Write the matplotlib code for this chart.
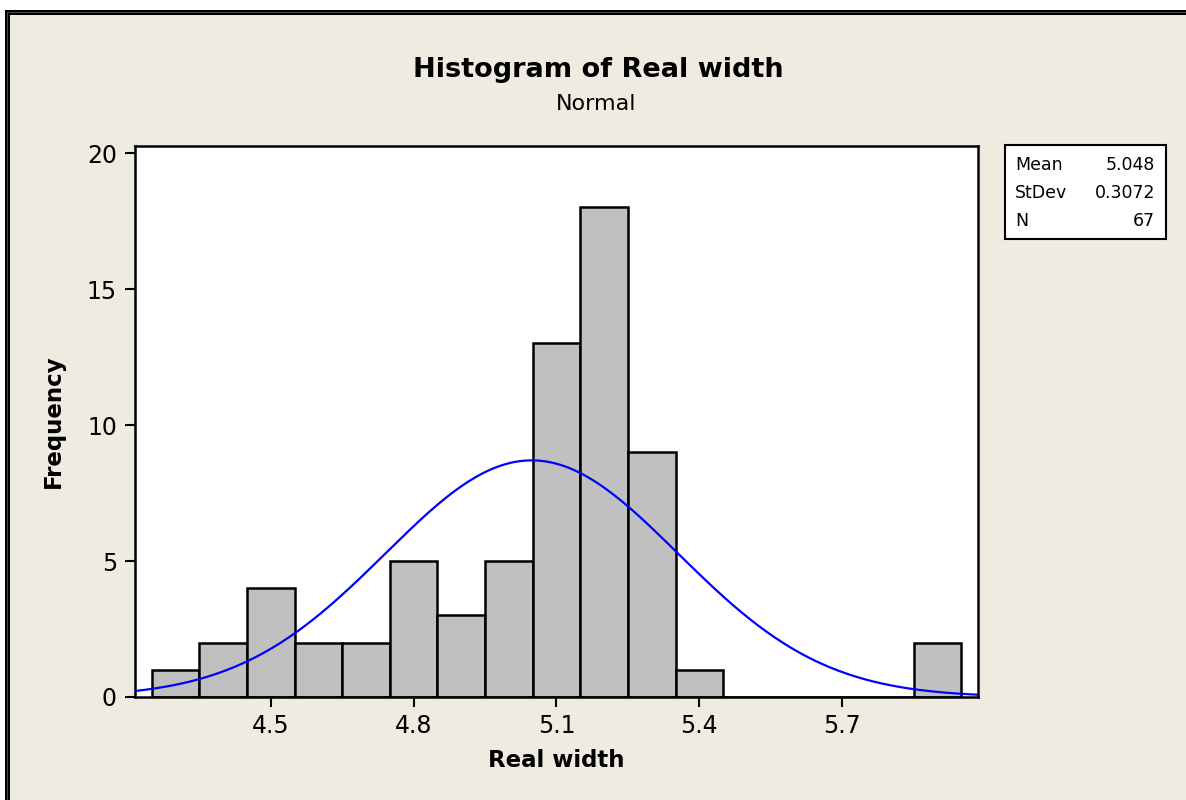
import numpy as np
import matplotlib
matplotlib.use("Agg")
import matplotlib.pyplot as plt
from matplotlib.patches import Rectangle

# Data
bin_centers = [4.3, 4.4, 4.5, 4.6, 4.7, 4.8, 4.9, 5.0, 5.1, 5.2, 5.3, 5.4, 5.5, 5.6, 5.7, 5.8, 5.9]
counts      = [1,   2,   4,   2,   2,   5,   3,   5,   13,  18,  9,   1,   0,   0,   0,   0,   2]
bin_width = 0.1
mean_val = 5.048
std_val = 0.3072
n_val = 67
xticks = [4.5, 4.8, 5.1, 5.4, 5.7]
yticks = [0, 5, 10, 15, 20]

plt.rcParams['font.family'] = ['DejaVu Sans']
BG = '#EFEBE1'
W, H = 1186, 800

fig = plt.figure(figsize=(11.86, 8.0), dpi=100, facecolor='white')

# Beige panel with double border
panel = Rectangle((7/W, -0.1), 1.2, (H - 12.5) / H + 0.1, transform=fig.transFigure,
                  facecolor=BG, edgecolor='black', linewidth=3.6, zorder=-10)
fig.patches.append(panel)
inner = Rectangle((7/W, -0.1), 1.2, (H - 12.5) / H + 0.1, transform=fig.transFigure,
                  facecolor='none', edgecolor='#555555', linewidth=0.6, zorder=-9)
fig.patches.append(inner)

ax = fig.add_axes([135/W, 1-697/H, (978-135)/W, (697-146)/H])
ax.set_facecolor('white')

ax.bar(bin_centers, counts, width=bin_width, color='#C0C0C0', edgecolor='black',
       linewidth=1.8, zorder=2)

xs = np.linspace(4.215, 5.985, 400)
pdf = n_val * bin_width * np.exp(-0.5 * ((xs - mean_val) / std_val) ** 2) / (std_val * np.sqrt(2 * np.pi))
ax.plot(xs, pdf, color='#0000FF', linewidth=1.6, zorder=3)

ax.set_xlim(4.215, 5.985)
ax.set_ylim(0, 20.26)
ax.set_xticks(xticks)
ax.set_xticklabels([f"{t:.1f}" for t in xticks])
ax.set_yticks(yticks)
for s in ax.spines.values():
    s.set_linewidth(1.8)
    s.set_color('black')
ax.tick_params(axis='both', direction='out', length=7, width=1.5, labelsize=17, colors='black')
ax.tick_params(axis='x', pad=5)
ax.tick_params(axis='y', pad=6)

ax.set_xlabel('Real width', fontsize=16.5, fontweight='bold', labelpad=8)
ax.set_ylabel('Frequency', fontsize=16.5, fontweight='bold', labelpad=16)

fig.text(598/W, 1-70/H, 'Histogram of Real width', ha='center', va='center',
         fontsize=19.5, fontweight='bold')
fig.text(596/W, 1-104/H, 'Normal', ha='center', va='center', fontsize=16)

# Stats box
box = Rectangle((1005/W, 1-239/H), (1166-1005)/W, (239-145)/H,
                transform=fig.transFigure, facecolor='white', edgecolor='black', linewidth=1.5)
fig.patches.append(box)
labels = ['Mean', 'StDev', 'N']
vals = ['5.048', '0.3072', '67']
for i, (l, v) in enumerate(zip(labels, vals)):
    y = 1 - (165 + 28 * i) / H
    fig.text(1015/W, y, l, ha='left', va='center', fontsize=12.5)
    fig.text(1155/W, y, v, ha='right', va='center', fontsize=12.5)

fig.savefig('out.png', dpi=100, facecolor='white')
